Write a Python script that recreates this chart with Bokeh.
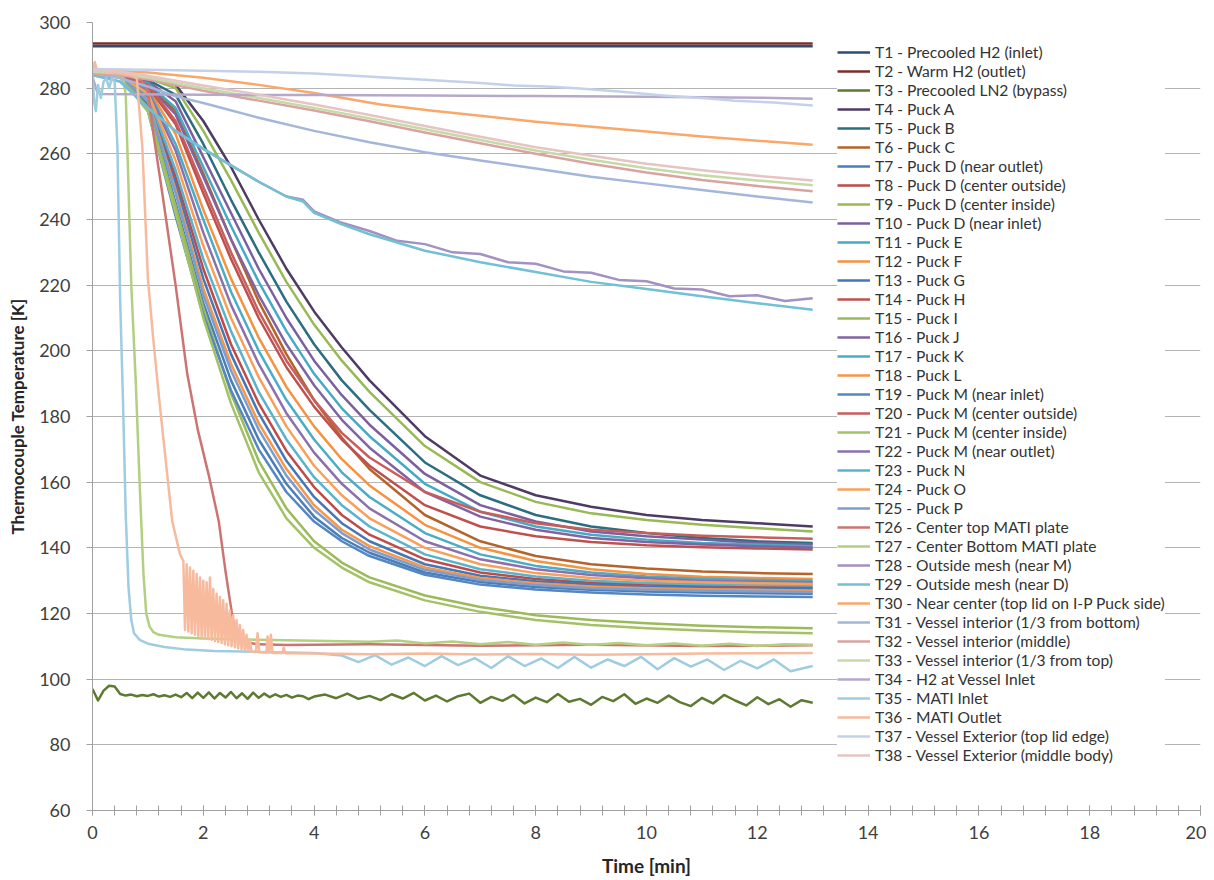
from bokeh.plotting import figure
from bokeh.models import Legend, LegendItem, SingleIntervalTicker, Range1d
from bokeh.embed import file_html
from bokeh.resources import INLINE

# ---------------- data ----------------
LABELS = [
    "T1 - Precooled H2 (inlet)", "T2 - Warm H2 (outlet)", "T3 - Precooled LN2 (bypass)",
    "T4 - Puck A", "T5 - Puck B", "T6 - Puck C", "T7 - Puck D (near outlet)",
    "T8 - Puck D (center outside)", "T9 - Puck D (center inside)", "T10 - Puck D (near inlet)",
    "T11 - Puck E", "T12 - Puck F", "T13 - Puck G", "T14 - Puck H", "T15 - Puck I",
    "T16 - Puck J", "T17 - Puck K", "T18 - Puck L", "T19 - Puck M (near inlet)",
    "T20 - Puck M (center outside)", "T21 - Puck M (center inside)", "T22 - Puck M (near outlet)",
    "T23 - Puck N", "T24 - Puck O", "T25 - Puck P", "T26 - Center top MATI plate",
    "T27 - Center Bottom MATI plate", "T28 - Outside mesh (near M)", "T29 - Outside mesh (near D)",
    "T30 - Near center (top lid on I-P Puck side)", "T31 - Vessel interior (1/3 from bottom)",
    "T32 - Vessel interior (middle)", "T33 - Vessel interior (1/3 from top)",
    "T34 - H2 at Vessel Inlet", "T35 - MATI Inlet", "T36 - MATI Outlet",
    "T37 - Vessel Exterior (top lid edge)", "T38 - Vessel Exterior (middle body)",
]

COLORS = [
    "#2C4D75", "#7A2E2B", "#5E7A30", "#4D3B66", "#2B6E80", "#B4642A",
    "#4A7EBB", "#BE4B48", "#98B954", "#7D5FA0", "#46AAC5", "#F69240",
    "#4577B8", "#C0504D", "#9BBB59", "#8064A2", "#4BACC6", "#F79646",
    "#5486C4", "#C75E5B", "#A3C266", "#8A70AC", "#58B3CC", "#F8A05A",
    "#7E9DCF", "#CC7472", "#B3CF80", "#A391C1", "#72C0D6", "#F9A86A",
    "#A4B6DA", "#D9A3A1", "#C5DAA4", "#B5A9CB", "#9ECCE0", "#F7BA9C",
    "#C3D1EA", "#E6C4C3",
]

# constant inlet / outlet lines
T1_T = [0, 13]
T1_V = [292.8, 292.8]
T2_T = [0, 13]
T2_V = [293.6, 293.6]

# LN2 bypass (noisy)
T3_T = [0.0, 0.1, 0.2, 0.3, 0.4, 0.5, 0.6, 0.7, 0.8, 0.9,
        1.0, 1.1, 1.2, 1.3, 1.4, 1.5, 1.6, 1.7, 1.8, 1.9,
        2.0, 2.1, 2.2, 2.3, 2.4, 2.5, 2.6, 2.7, 2.8, 2.9,
        3.0, 3.1, 3.2, 3.3, 3.4, 3.5, 3.6, 3.7, 3.8, 3.9, 4.0,
        4.2, 4.4, 4.6, 4.8, 5.0, 5.2, 5.4, 5.6, 5.8, 6.0,
        6.2, 6.4, 6.6, 6.8, 7.0, 7.2, 7.4, 7.6, 7.8, 8.0,
        8.2, 8.4, 8.6, 8.8, 9.0, 9.2, 9.4, 9.6, 9.8, 10.0,
        10.2, 10.4, 10.6, 10.8, 11.0, 11.2, 11.4, 11.6, 11.8, 12.0,
        12.2, 12.4, 12.6, 12.8, 13.0]
T3_V = [97.0, 93.5, 96.5, 98.0, 97.8, 95.5, 95.0, 95.3, 94.8, 95.2,
        94.9, 95.4, 94.7, 95.1, 94.6, 95.3, 94.5, 95.8, 94.2, 95.9,
        94.3, 96.0, 94.1, 95.8, 94.4, 96.1, 94.2, 95.7, 94.0, 95.9,
        94.3, 95.6, 94.5, 95.4, 94.6, 95.2, 94.4, 95.0, 94.8, 93.9, 94.7,
        95.3, 94.2, 95.6, 94.0, 94.9, 93.6, 95.4, 94.1, 95.8, 93.5,
        95.0, 93.2, 94.8, 95.6, 92.8, 94.6, 93.4, 95.2, 92.6, 94.4,
        93.0, 95.5, 93.1, 94.0, 92.2, 94.6, 93.3, 95.4, 92.5, 94.1,
        92.8, 95.0, 93.0, 91.8, 94.3, 92.6, 95.2, 93.5, 92.0, 94.5,
        92.4, 93.9, 91.6, 93.6, 92.8]

# puck temperatures, common time base
PUCK_T = [0, 0.5, 1.0, 1.5, 2.0, 2.5, 3.0, 3.5, 4.0, 4.5, 5.0, 6.0, 7.0, 8.0, 9.0, 10.0, 11.0, 12.0, 13.0]
T4_V = [284, 283.5, 283, 281, 270, 256, 240, 225, 212, 201, 191, 174, 162, 156, 152.5, 150, 148.5, 147.5, 146.5]
T5_V = [284, 283.5, 282.5, 278, 263, 246, 230, 215, 202, 191, 182, 166, 156, 150, 146.5, 144.5, 143, 142, 141.5]
T6_V = [284, 283.5, 281.5, 273, 254, 234, 215, 199, 185, 173.5, 164, 150, 142, 137.5, 135, 133.7, 132.8, 132.3, 132]
T7_V = [284, 283.5, 275, 245, 214.5, 191, 173, 159.5, 149.5, 143, 138.5, 132.5, 129.6, 128.1, 127.2, 126.7, 126.4, 126.2, 126]
T8_V = [284, 283.5, 277.5, 253, 225, 202, 184, 169.5, 158.5, 150, 144, 136.5, 132.5, 130.5, 129.4, 128.8, 128.4, 128.2, 128]
T9_V = [284, 283.5, 283, 280, 267, 252, 236, 221, 208, 197, 187.5, 171, 160, 154, 150.5, 148.5, 147, 146, 145]
T10_V = [284, 283.5, 282, 276, 259, 242, 225, 210, 197, 186.5, 177.5, 162.5, 153, 148, 145, 143.5, 142.5, 141.5, 141]
T11_V = [284, 283.5, 281.5, 274, 256, 238, 221, 206, 193, 182.5, 174, 159.5, 151, 146.5, 144, 142.5, 141.5, 141, 140.5]
T12_V = [284, 283.5, 280, 266, 243, 222, 204, 189, 177, 167, 159, 147, 140, 136, 133.5, 132, 131.2, 130.8, 130.5]
T13_V = [284, 283.5, 277, 251, 222, 199, 181, 166.5, 155.5, 147.5, 142, 135, 131.5, 129.8, 128.8, 128.2, 127.9, 127.7, 127.5]
T14_V = [284, 283.5, 280.5, 269, 248, 228, 210, 195, 183, 173, 165, 153, 146.5, 143.5, 141.8, 140.8, 140.2, 139.8, 139.5]
T15_V = [284, 283.5, 274, 244, 213, 187, 166.5, 152, 142, 135.5, 131, 125.5, 122, 119.5, 118, 117, 116.3, 115.8, 115.5]
T16_V = [284, 283.5, 281, 272, 253, 234, 217, 202, 189.5, 179, 170.5, 157, 149.5, 145.5, 143, 141.8, 141, 140.5, 140]
T17_V = [284, 283.5, 279.5, 263, 240, 218, 200, 185, 173, 163, 155.5, 144.5, 138, 134.5, 132.5, 131.3, 130.6, 130.2, 130]
T18_V = [284, 283.5, 276.5, 249, 219, 196, 178, 164, 153, 145.5, 140.5, 134, 130.8, 129.2, 128.2, 127.7, 127.4, 127.2, 127]
T19_V = [284, 283.5, 273, 241, 211, 188, 170, 157, 148, 142, 137.5, 131.8, 128.8, 127.3, 126.4, 125.8, 125.4, 125.2, 125]
T20_V = [284, 283.5, 281, 270, 250, 230, 212, 197, 185, 175, 167.5, 157, 151, 147.5, 145.5, 144.5, 143.7, 143.2, 142.8]
T21_V = [284, 283.5, 273, 242, 210, 184, 163, 149, 140, 134, 129.5, 124, 120.5, 118, 116.5, 115.5, 114.8, 114.3, 114]
T22_V = [284, 283.5, 279, 261, 236, 214, 196, 181, 169, 159.5, 152, 142, 136.5, 133.5, 131.7, 130.7, 130, 129.7, 129.5]
T23_V = [284, 283.5, 278, 255, 228, 206, 187.5, 173, 161.5, 153, 146.5, 138, 133.5, 131.3, 130, 129.3, 128.9, 128.7, 128.5]
T24_V = [284, 283.5, 278.5, 258, 232, 210, 192, 177, 165, 156, 149, 140, 135, 132.3, 130.8, 130, 129.5, 129.2, 129]
T25_V = [284, 283.5, 276, 248, 217, 194, 176, 162, 151.5, 144.5, 139.5, 133.3, 130.2, 128.7, 127.7, 127.2, 126.9, 126.7, 126.5]

# MATI plate
T26_T = [0, 0.5, 0.8, 0.9, 1.0, 1.1, 1.26, 1.5, 1.71, 1.9, 2.1, 2.28, 2.4, 2.53, 2.6, 2.7, 2.85,
         3.0, 3.5, 5, 7, 9, 11, 13]
T26_V = [284.5, 284, 283, 282, 279, 266, 248, 220, 193, 176, 162, 148, 133, 118.5, 114, 112, 111,
         110.6, 110.4, 110.6, 110.2, 110.5, 110.1, 110.3]
T27_T = [0, 0.3, 0.55, 0.6, 0.65, 0.7, 0.78, 0.85, 0.92, 0.97, 1.03, 1.1, 1.2, 1.5, 2, 3, 4, 5,
         5.5, 6, 6.5, 7, 7.5, 8, 8.5, 9, 9.5, 10, 10.5, 11, 11.5, 12, 12.5, 13]
T27_V = [284.5, 284, 283.5, 278, 250, 220, 191, 160, 132, 120, 116, 114.3, 113.5, 112.8, 112.4, 112, 111.7, 111.4,
         111.8, 110.9, 111.5, 110.6, 111.3, 110.5, 111.2, 110.4, 111, 110.3, 110.9, 110.2, 110.8, 110.1, 110.6, 110.5]

# outside mesh
T28_T = [0, 0.5, 1.0, 1.5, 2.0, 2.5, 3.0, 3.5, 3.8, 4.0,
         4.5, 5.0, 5.5, 6.0, 6.5, 7.0, 7.5, 8.0, 8.5, 9.0, 9.5, 10.0, 10.5, 11.0, 11.5, 12.0, 12.5, 13.0]
T28_V = [284, 282, 274, 267, 261.5, 256.5, 251.5, 247, 246, 242.5,
         239, 236.5, 233.5, 232.5, 230, 229.5, 227, 226.5, 224.2, 223.8, 221.6, 221.2, 219, 218.7, 216.6, 216.9, 215.2, 216]
T29_T = [0, 0.5, 1.0, 1.5, 2.0, 2.5, 3.0, 3.5, 3.8, 4.0,
         4.5, 5.0, 6.0, 7.0, 8.0, 9.0, 10.0, 11.0, 12.0, 13.0]
T29_V = [284, 282, 274, 267, 261.5, 256.5, 251.5, 247, 245.5, 242,
         238.5, 235.5, 230.5, 227, 224, 221, 218.8, 216.6, 214.5, 212.5]

T30_T = [0, 1, 2, 3, 4, 5.2, 6.1, 7, 8, 9.17, 10, 11, 12, 13]
T30_V = [285.5, 284.8, 283.2, 281, 278.5, 275, 273.2, 271.6, 269.8, 268, 266.8, 265.3, 264, 262.8]

T31_T = [0, 0.5, 1, 1.5, 2, 3, 4, 5, 6, 7, 8, 9, 10, 11, 12, 13]
T31_V = [284.5, 283, 280.5, 277.5, 275.5, 271, 267, 263.5, 260.5, 258, 255.5, 253, 251, 249, 247, 245.2]

VESSEL_T = [0, 0.5, 1, 2, 3, 4, 5, 6, 7, 8, 9, 10, 11, 12, 13]
T32_V = [284.5, 284, 282.6, 279.2, 276.2, 273.2, 269.9, 266.5, 263.2, 260, 257, 254.3, 252, 250.2, 248.6]
T33_V = [285, 284.5, 283.2, 280, 277, 274, 270.8, 267.5, 264.2, 261, 258.2, 255.6, 253.5, 251.9, 250.4]
T38_V = [285.5, 285, 283.8, 280.8, 278, 275, 271.8, 268.5, 265.2, 262, 259.4, 257, 255, 253.3, 251.9]

T34_T = [0, 0.08, 0.15, 2, 4, 6, 8, 10, 12, 13]
T34_V = [283.5, 279, 278.2, 278, 277.9, 277.8, 277.6, 277.4, 277.1, 276.8]

# MATI inlet
T35_T = [0, 0.03, 0.06, 0.1, 0.15, 0.2, 0.25, 0.3, 0.35, 0.4, 0.45, 0.5, 0.55, 0.6, 0.65, 0.7, 0.75,
         0.85, 1.0, 1.3, 1.7, 2.2, 3.0, 4.0,
         4.5, 4.8, 5.1, 5.4, 5.7, 6.0, 6.3, 6.6, 6.9, 7.2, 7.5, 7.8, 8.1, 8.4, 8.7, 9.0, 9.3, 9.6,
         9.9, 10.2, 10.5, 10.8, 11.1, 11.4, 11.7, 12.0, 12.3, 12.6, 13.0]
T35_V = [284, 276, 273, 281, 277, 282, 283, 280, 283, 282, 262, 215, 185, 150, 128, 118, 114,
         112, 110.8, 109.8, 109, 108.6, 108.3, 108,
         107.2, 105.2, 107.3, 104.4, 106.6, 104, 107, 104.3, 106.4, 103.4, 107, 104, 106.3, 103.4, 106.8, 103.5, 106, 104,
         106.8, 103, 106.4, 103.8, 106, 102.8, 105.6, 103.3, 106, 102.4, 104]

# MATI outlet
T36_HEAD_T = [0, 0.04, 0.08, 0.3, 0.5, 0.7, 0.8, 0.9, 1.0, 1.1, 1.2, 1.3, 1.44, 1.58]
T36_HEAD_V = [285, 288, 285.5, 285, 284.5, 284, 283, 262, 222, 203, 186, 170, 148, 138]
T36_BAND_T = [1.64, 1.67, 1.70, 1.73, 1.76, 1.79, 1.82, 1.85, 1.88, 1.91, 1.94, 1.97,
              2.00, 2.03, 2.06, 2.09, 2.12, 2.15, 2.18, 2.21, 2.24, 2.27, 2.30, 2.33,
              2.36, 2.39, 2.42, 2.45, 2.48, 2.51, 2.54, 2.57, 2.60, 2.63, 2.66, 2.69,
              2.72, 2.75, 2.78, 2.81, 2.84, 2.87]
T36_BAND_V = [136, 115, 135, 114.5, 134, 114, 133, 113.5, 132, 113, 131, 112.8,
              130, 112.5, 129.5, 112.2, 131, 112, 127.5, 111.6, 126, 111.3, 125, 111,
              124, 110.6, 123, 110.3, 121, 110, 119.5, 109.7, 118, 109.4, 116.5, 109.1,
              115, 108.8, 113.5, 108.6, 112, 108.4]
T36_TAIL_T = [2.95, 2.98, 3.01, 3.14, 3.16, 3.19, 3.22, 3.25, 3.43, 3.45, 3.48,
              4, 5, 6, 7, 8, 9, 10, 11, 12, 13]
T36_TAIL_V = [108.3, 114, 108.2, 108.1, 113, 108.1, 113.5, 108, 108, 109.6, 107.9,
              107.8, 107.6, 107.8, 107.5, 107.7, 107.4, 107.6, 107.8, 107.9, 108]

T37_T = [0, 1, 2, 3, 4, 5.2, 6, 7, 7.6, 8.2, 8.8, 9.5, 10.3, 11, 11.6, 12.3, 13]
T37_V = [285.8, 285.6, 285.3, 285, 284.5, 283.3, 282.6, 281.6, 280.8, 280.5, 279.9, 279, 277.8, 277, 276.2, 275.6, 274.7]

X_TICK_INTERVAL = 2
Y_TICK_INTERVAL = 20

# ---------------- assemble ----------------
series = [
    (T1_T, T1_V), (T2_T, T2_V), (T3_T, T3_V),
    (PUCK_T, T4_V), (PUCK_T, T5_V), (PUCK_T, T6_V), (PUCK_T, T7_V), (PUCK_T, T8_V),
    (PUCK_T, T9_V), (PUCK_T, T10_V), (PUCK_T, T11_V), (PUCK_T, T12_V), (PUCK_T, T13_V),
    (PUCK_T, T14_V), (PUCK_T, T15_V), (PUCK_T, T16_V), (PUCK_T, T17_V), (PUCK_T, T18_V),
    (PUCK_T, T19_V), (PUCK_T, T20_V), (PUCK_T, T21_V), (PUCK_T, T22_V), (PUCK_T, T23_V),
    (PUCK_T, T24_V), (PUCK_T, T25_V),
    (T26_T, T26_V), (T27_T, T27_V), (T28_T, T28_V), (T29_T, T29_V), (T30_T, T30_V),
    (T31_T, T31_V), (VESSEL_T, T32_V), (VESSEL_T, T33_V), (T34_T, T34_V), (T35_T, T35_V),
    (T36_HEAD_T + T36_BAND_T + T36_TAIL_T, T36_HEAD_V + T36_BAND_V + T36_TAIL_V),
    (T37_T, T37_V), (VESSEL_T, T38_V),
]

FONT = "Lato"

p = figure(
    frame_width=1108, frame_height=788,
    x_range=Range1d(0, 20), y_range=Range1d(60, 300),
    output_backend="svg", toolbar_location=None,
    min_border_left=92, min_border_top=22, min_border_right=6, min_border_bottom=66,
    background_fill_color="white", border_fill_color="white",
)
p.outline_line_color = None
p.xgrid.grid_line_color = None
p.ygrid.grid_line_color = "#B4B4B4"
p.ygrid.grid_line_width = 1

p.xaxis.ticker = SingleIntervalTicker(interval=X_TICK_INTERVAL, num_minor_ticks=5)
p.yaxis.ticker = SingleIntervalTicker(interval=Y_TICK_INTERVAL, num_minor_ticks=0)

for ax in (p.xaxis, p.yaxis):
    ax.axis_line_color = "#A0A0A0"
    ax.major_tick_line_color = "#A0A0A0"
    ax.minor_tick_line_color = "#A0A0A0"
    ax.major_label_text_font = FONT
    ax.major_label_text_font_size = "18px"
    ax.major_label_text_color = "#404040"
    ax.axis_label_text_font = FONT
    ax.axis_label_text_font_style = "bold"
    ax.axis_label_text_color = "#262626"

p.xaxis.axis_label_text_font_size = "19px"
p.yaxis.axis_label_text_font_size = "17px"

p.xaxis.major_tick_in = 5
p.xaxis.major_tick_out = 5
p.xaxis.minor_tick_in = 5
p.xaxis.minor_tick_out = 5
p.xaxis.major_label_standoff = 10
p.xaxis.axis_label = "Time [min]"
p.xaxis.axis_label_standoff = 12

p.yaxis.major_tick_in = 0
p.yaxis.major_tick_out = 6
p.yaxis.minor_tick_line_color = None
p.yaxis.major_label_standoff = 16
p.yaxis.axis_label = "Thermocouple Temperature [K]"
p.yaxis.axis_label_standoff = 8

items = []
for (tt, vv), lab, col in zip(series, LABELS, COLORS):
    r = p.line(tt, vv, line_color=col, line_width=2.5, line_join="round")
    items.append(LegendItem(label=lab, renderers=[r]))

legend = Legend(
    items=items, location=(745, 46),
    background_fill_color="white", background_fill_alpha=1.0,
    border_line_color=None, padding=10, spacing=1, margin=0,
    glyph_width=33, glyph_height=18, label_height=18, label_standoff=5,
    label_text_font=FONT, label_text_font_size="15.6px", label_text_color="#333333",
)
p.add_layout(legend)

open("out.html", "w").write(file_html(p, INLINE))
